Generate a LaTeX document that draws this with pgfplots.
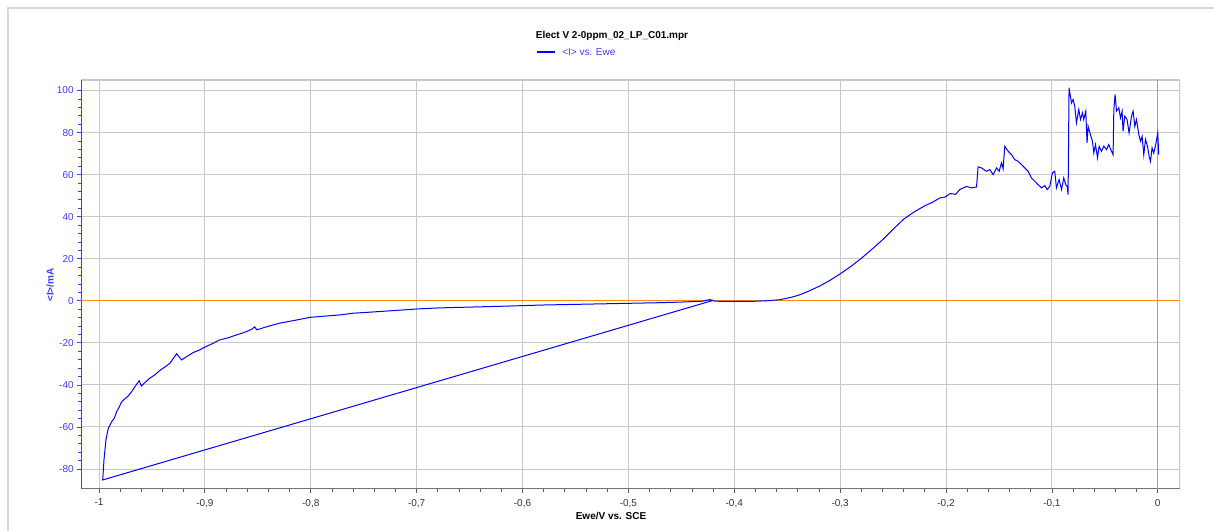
\documentclass[border=0pt]{standalone}
\usepackage{pgfplots}
\pgfplotsset{compat=1.18}
\usepackage{fontspec}
\setmainfont{Liberation Sans}
\definecolor{ecblue}{RGB}{0,0,255}
\definecolor{ticblue}{RGB}{60,60,255}
\definecolor{ecorange}{RGB}{255,140,20}
\definecolor{gridgray}{RGB}{200,200,200}
\definecolor{framegray}{RGB}{215,215,215}
\begin{document}
\begin{tikzpicture}[x=0.75pt,y=0.75pt]
\useasboundingbox (0,0) rectangle (1214,531);
\draw[framegray,line width=1.5pt] (8,0) -- (8,523) -- (1214,523);
\begin{axis}[
  at={(60.75pt,31.5pt)}, anchor=south west,
  scale only axis, width=824.25pt, height=306.75pt,
  xmin=-1.017, xmax=0.021, ymin=-89.5, ymax=105,
  axis line style={draw=none},
  xtick={-1,-0.9,-0.8,-0.7,-0.6,-0.5,-0.4,-0.3,-0.2,-0.1,0},
  xticklabels={-1,{-0,9},{-0,8},{-0,7},{-0,6},{-0,5},{-0,4},{-0,3},{-0,2},{-0,1},0},
  ytick={-80,-60,-40,-20,0,20,40,60,80,100},
  yticklabels={-80,-60,-40,-20,0,20,40,60,80,100},
  minor x tick num=4, minor y tick num=4,
  tick align=outside,
  major tick length=3pt, minor tick length=2pt,
  xtick style={draw=black!65, line width=0.6pt},
  ytick style={draw=ticblue, line width=0.6pt},
  xmajorgrids, ymajorgrids,
  major grid style={gridgray, line width=0.75pt},
  tick label style={font=\fontsize{7.5}{8}\selectfont},
  yticklabel style={text=ticblue, xshift=1pt},
  xticklabel style={text=black!80, yshift=-1pt},
  xtick pos=bottom, ytick pos=left,
  clip=true,
]
\draw[gridgray, line width=1pt] (axis description cs:0,1) -- (axis description cs:1,1) -- (axis description cs:1,0);
\draw[black!55, line width=1.2pt] (axis description cs:0,0) -- (axis description cs:1,0);
\draw[ticblue, line width=1.2pt] (axis description cs:0,0) -- (axis description cs:0,1);
\addplot[ecorange, line width=0.9pt] coordinates {(-1.1,0) (0.1,0)};
\addplot[ecorange, line width=0.9pt] coordinates {(0,-100) (0,120)};
\addplot[ecblue, line width=0.75pt] coordinates {
(-0.42,0.2) (-0.9965,-85.2)
(-0.9953,-75.7) (-0.9934,-66) (-0.9912,-60.6) (-0.988,-57.5) (-0.9855,-55.8) (-0.9833,-52.7)
(-0.981,-50.6) (-0.9785,-48) (-0.9755,-46.6) (-0.9723,-45.2) (-0.969,-43.1) (-0.966,-40.8) (-0.962,-38) (-0.960,-40.5)
(-0.956,-38.6) (-0.952,-36.8) (-0.947,-35.1) (-0.942,-32.9) (-0.938,-31.6) (-0.933,-29.7) (-0.9267,-25.2) (-0.922,-28.1)
(-0.917,-26.5) (-0.911,-24.6) (-0.905,-23.4) (-0.900,-22) (-0.893,-20.4) (-0.886,-18.6) (-0.878,-17.6) (-0.870,-16.2) (-0.863,-15.1) (-0.856,-13.6) (-0.853,-12.4) (-0.851,-13.8)
(-0.84,-12.1) (-0.829,-10.6) (-0.815,-9.3) (-0.801,-7.9) (-0.787,-7.3) (-0.772,-6.7) (-0.76,-5.9) (-0.75,-5.6) (-0.735,-5.1) (-0.72,-4.6) (-0.70,-3.9)
(-0.68,-3.4) (-0.65,-3.0) (-0.62,-2.6) (-0.60,-2.3) (-0.58,-2.0) (-0.55,-1.7)
(-0.52,-1.4) (-0.50,-1.2) (-0.47,-0.9) (-0.45,-0.6) (-0.43,-0.2) (-0.423,0.6)
(-0.418,-0.2) (-0.40,-0.3) (-0.385,-0.3) (-0.37,0) (-0.357,0.5) (-0.345,1.8)
(-0.338,2.9) (-0.33,4.5) (-0.319,7.1) (-0.31,9.6) (-0.30,12.8) (-0.29,16.3)
(-0.28,20.2) (-0.27,24.5) (-0.26,29) (-0.25,34) (-0.24,38.8) (-0.23,42.3)
(-0.22,45.2) (-0.213,46.8) (-0.2059,48.9) (-0.201,49.3) (-0.196,51) (-0.191,50.6)
(-0.187,52.9) (-0.1807,54.4) (-0.176,53.7) (-0.1712,54.1)
(-0.1697,63.7) (-0.1665,63.2) (-0.1618,61.6) (-0.1586,62.4) (-0.1555,60)
(-0.1523,63.2) (-0.1498,61.6) (-0.1476,65.6) (-0.1461,62.7) (-0.1445,73.5)
(-0.1413,71.1) (-0.1382,69.5) (-0.135,67.1) (-0.1319,66.3) (-0.1287,64.8)
(-0.1256,63.2) (-0.1224,61.6) (-0.1193,58.4) (-0.1161,56.8) (-0.113,55.2)
(-0.1098,53.7) (-0.1067,54.8) (-0.1045,52.9) (-0.102,54.4) (-0.0995,60.8)
(-0.0973,61.6) (-0.0957,53.7) (-0.0932,57.6) (-0.0909,52.9) (-0.0888,58.4)
(-0.0869,55.2) (-0.0856,54.4) (-0.0847,50.5) (-0.0838,101.3) (-0.0815,94.1)
(-0.08,95.7) (-0.0784,92.5) (-0.0768,84.6) (-0.0746,91) (-0.073,86.2)
(-0.0711,89.4) (-0.0699,86.2) (-0.068,90.2) (-0.0668,75.1) (-0.0658,83)
(-0.0636,79) (-0.0617,75.9) (-0.0604,70.3) (-0.0588,74.3) (-0.0569,68)
(-0.0554,73.5) (-0.0532,71.1) (-0.051,73.5) (-0.0484,71.9) (-0.0463,74.3)
(-0.0444,71.9) (-0.0422,69.5) (-0.0415,91) (-0.0403,98.1) (-0.039,90.2)
(-0.0368,91.8) (-0.0352,87) (-0.0337,90.2) (-0.0328,80.6) (-0.0312,87.8)
(-0.029,86.2) (-0.0271,79.8) (-0.0248,87.8) (-0.0233,90.2) (-0.0217,83)
(-0.0201,86.2) (-0.0179,79) (-0.0163,75.9) (-0.0148,78.2) (-0.0132,69.5)
(-0.0116,76.7) (-0.0097,73.5) (-0.0082,68.7) (-0.0069,66.3) (-0.0054,72.7)
(-0.0038,70.3) (-0.0019,74.3) (0,79.8) (0.0009,69.5)
};
\end{axis}
\node[font=\bfseries\fontsize{7.5}{8}\selectfont, anchor=center] at (612,495) {Elect V 2-0ppm\_02\_LP\_C01.mpr};
\draw[ecblue, line width=0.8pt] (537,479) -- (555,479);
\node[font=\fontsize{7.5}{8}\selectfont, text=ticblue, anchor=west, inner sep=0pt] at (562,479) {<I> vs. Ewe};
\node[font=\bfseries\fontsize{7.5}{8}\selectfont, text=ticblue, rotate=90, anchor=center] at (50,246) {<I>/mA};
\node[font=\bfseries\fontsize{7.5}{8}\selectfont, anchor=center] at (611,15) {Ewe/V vs. SCE};
\end{tikzpicture}
\end{document}
